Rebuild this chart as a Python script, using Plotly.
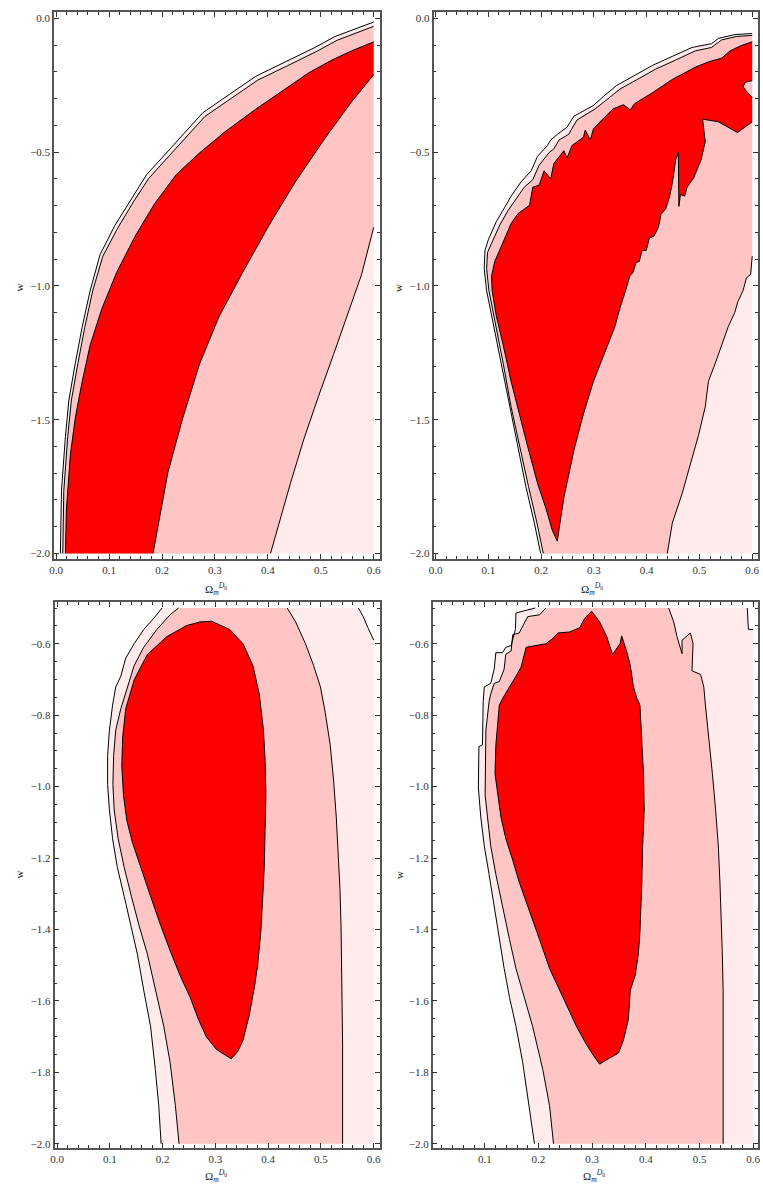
import plotly.graph_objects as go

# ---------------- data (Omega_m^{D0}, w) ----------------
OM_MAX = 0.6
W_MIN = -2.0

# ---- panel 1 (top-left) ----
P1_L3 = [(0.008, -2.0), (0.010, -1.766), (0.0175, -1.5625), (0.024, -1.427), (0.036, -1.291),
         (0.049, -1.155), (0.064, -1.019), (0.083, -0.883), (0.111, -0.774), (0.1425, -0.673),
         (0.171, -0.584), (0.196, -0.530), (0.239, -0.435), (0.277, -0.353), (0.327, -0.285),
         (0.377, -0.217), (0.433, -0.163), (0.489, -0.109), (0.527, -0.068), (0.571, -0.034),
         (0.600, -0.014)]
P1_L2 = [(0.0125, -2.0), (0.0144, -1.766), (0.0219, -1.5625), (0.0288, -1.427), (0.041, -1.291),
         (0.054, -1.155), (0.069, -1.019), (0.088, -0.890), (0.116, -0.785), (0.147, -0.683),
         (0.175, -0.598), (0.200, -0.543), (0.244, -0.448), (0.281, -0.367), (0.331, -0.299),
         (0.381, -0.231), (0.4375, -0.177), (0.494, -0.122), (0.531, -0.082), (0.574, -0.048),
         (0.600, -0.030)]
P1_L1 = [(0.0175, -2.0), (0.0194, -1.834), (0.0269, -1.630), (0.036, -1.495), (0.049, -1.359),
         (0.064, -1.223), (0.086, -1.087), (0.114, -0.951), (0.149, -0.815), (0.186, -0.693),
         (0.227, -0.584), (0.271, -0.503), (0.321, -0.421), (0.377, -0.340), (0.427, -0.272),
         (0.477, -0.204), (0.521, -0.156), (0.558, -0.122), (0.600, -0.088)]
P1_R1 = [(0.183, -2.0), (0.1925, -1.902), (0.211, -1.698), (0.239, -1.495), (0.271, -1.291),
         (0.308, -1.114), (0.352, -0.951), (0.402, -0.774), (0.452, -0.611), (0.508, -0.448),
         (0.558, -0.3125), (0.600, -0.211)]
P1_R2 = [(0.405, -2.0), (0.4206, -1.889), (0.4425, -1.739), (0.4675, -1.576), (0.4956, -1.413),
         (0.524, -1.257), (0.552, -1.101), (0.577, -0.958), (0.600, -0.781)]

# ---- panel 2 (top-right) ----
P2_L3 = [(0.199, -2.0), (0.187, -1.886), (0.171, -1.750), (0.156, -1.601), (0.140, -1.452),
         (0.125, -1.289), (0.109, -1.140), (0.0966, -1.018), (0.092, -0.936), (0.0935, -0.868),
         (0.0997, -0.828), (0.115, -0.760), (0.131, -0.706), (0.143, -0.665), (0.162, -0.611),
         (0.181, -0.570), (0.193, -0.516), (0.212, -0.475), (0.218, -0.455), (0.2305, -0.434),
         (0.249, -0.407), (0.262, -0.366), (0.274, -0.353), (0.299, -0.326), (0.318, -0.292),
         (0.343, -0.251), (0.374, -0.217), (0.411, -0.176), (0.449, -0.142), (0.486, -0.109),
         (0.523, -0.095), (0.536, -0.075), (0.567, -0.061), (0.600, -0.057)]
P2_L2 = [(0.204, -2.0), (0.192, -1.886), (0.176, -1.750), (0.1595, -1.601), (0.143, -1.452),
         (0.128, -1.289), (0.113, -1.140), (0.101, -1.018), (0.0966, -0.936), (0.0984, -0.875),
         (0.106, -0.841), (0.1215, -0.773), (0.137, -0.719), (0.1495, -0.685), (0.168, -0.631),
         (0.184, -0.604), (0.196, -0.5495), (0.215, -0.502), (0.224, -0.488), (0.234, -0.4545),
         (0.252, -0.434), (0.268, -0.380), (0.280, -0.366), (0.302, -0.339), (0.324, -0.305),
         (0.349, -0.265), (0.380, -0.231), (0.417, -0.190), (0.455, -0.156), (0.492, -0.122),
         (0.523, -0.109), (0.542, -0.081), (0.570, -0.068), (0.600, -0.064)]
P2_RED_UPPER = [(0.2305, -1.954), (0.221, -1.913), (0.209, -1.832), (0.193, -1.737), (0.1745, -1.601),
                (0.159, -1.479), (0.143, -1.357), (0.128, -1.221), (0.115, -1.113), (0.107, -1.018),
                (0.106, -0.963), (0.112, -0.909), (0.128, -0.834), (0.143, -0.767), (0.156, -0.730),
                (0.178, -0.699), (0.184, -0.631), (0.196, -0.624), (0.2056, -0.570), (0.218, -0.600),
                (0.224, -0.543), (0.243, -0.495), (0.249, -0.522), (0.2586, -0.475), (0.280, -0.445),
                (0.2835, -0.418), (0.293, -0.4545), (0.299, -0.414), (0.315, -0.380), (0.336, -0.339),
                (0.356, -0.323), (0.369, -0.342), (0.377, -0.319), (0.411, -0.278), (0.449, -0.228),
                (0.492, -0.183), (0.517, -0.163), (0.542, -0.149), (0.558, -0.122), (0.579, -0.102),
                (0.600, -0.088)]
P2_RED_NOTCH = [(0.600, -0.233), (0.587, -0.239), (0.5825, -0.255), (0.591, -0.278), (0.600, -0.296)]
P2_RED_LOWER = [(0.600, -0.387), (0.572, -0.427), (0.536, -0.387), (0.506, -0.377), (0.511, -0.461),
                (0.503, -0.529), (0.489, -0.597), (0.4766, -0.631), (0.472, -0.665), (0.464, -0.658),
                (0.461, -0.703), (0.460, -0.502), (0.455, -0.529), (0.449, -0.611), (0.4436, -0.665),
                (0.436, -0.712), (0.427, -0.733), (0.4224, -0.780), (0.414, -0.814), (0.405, -0.821),
                (0.399, -0.868), (0.391, -0.868), (0.386, -0.909), (0.380, -0.912), (0.374, -0.950),
                (0.368, -0.963), (0.360, -1.018), (0.349, -1.085), (0.3396, -1.153), (0.321, -1.248),
                (0.299, -1.357), (0.280, -1.479), (0.262, -1.615), (0.243, -1.791), (0.2305, -1.954)]
P2_R2 = [(0.439, -2.0), (0.4486, -1.886), (0.467, -1.777), (0.486, -1.642), (0.498, -1.560),
         (0.511, -1.452), (0.517, -1.357), (0.530, -1.289), (0.542, -1.221), (0.5545, -1.153),
         (0.567, -1.099), (0.573, -1.058), (0.5826, -1.018), (0.589, -0.970), (0.597, -0.957),
         (0.600, -0.889)]

# ---- panel 3 (bottom-left) ----
P3_L3 = [(0.199, -0.5), (0.183, -0.529), (0.164, -0.560), (0.146, -0.600), (0.130, -0.640),
         (0.1206, -0.691), (0.111, -0.721), (0.105, -0.772), (0.099, -0.842), (0.0956, -0.913),
         (0.0956, -0.994), (0.099, -1.065), (0.105, -1.146), (0.114, -1.226), (0.127, -1.307),
         (0.139, -1.388), (0.152, -1.469), (0.164, -1.570), (0.177, -1.671), (0.186, -1.792),
         (0.1925, -1.893), (0.197, -2.0)]
P3_L2 = [(0.230, -0.5), (0.214, -0.519), (0.189, -0.560), (0.164, -0.610), (0.146, -0.661),
         (0.133, -0.721), (0.1206, -0.782), (0.111, -0.842), (0.107, -0.913), (0.1056, -0.994),
         (0.108, -1.065), (0.1156, -1.146), (0.127, -1.226), (0.1406, -1.307), (0.155, -1.388),
         (0.171, -1.469), (0.186, -1.570), (0.202, -1.671), (0.214, -1.772), (0.224, -1.893),
         (0.231, -2.0)]
P3_RED = [(0.2925, -0.537), (0.327, -0.560), (0.352, -0.600), (0.371, -0.661), (0.383, -0.741),
          (0.391, -0.842), (0.394, -0.923), (0.3956, -1.024), (0.394, -1.125), (0.3925, -1.226),
          (0.389, -1.327), (0.386, -1.408), (0.380, -1.499), (0.374, -1.560), (0.364, -1.640),
          (0.352, -1.711), (0.3425, -1.741), (0.330, -1.762), (0.319, -1.752), (0.302, -1.736),
          (0.283, -1.701), (0.2675, -1.651), (0.252, -1.590), (0.233, -1.529), (0.214, -1.459),
          (0.196, -1.388), (0.177, -1.307), (0.158, -1.226), (0.1425, -1.156), (0.132, -1.095),
          (0.1256, -1.024), (0.1225, -0.943), (0.124, -0.863), (0.130, -0.782), (0.146, -0.701),
          (0.171, -0.630), (0.208, -0.580), (0.2456, -0.549), (0.2706, -0.539)]
P3_R2 = [(0.436, -0.5), (0.452, -0.539), (0.4706, -0.600), (0.486, -0.661), (0.499, -0.721),
         (0.508, -0.792), (0.5175, -0.883), (0.524, -0.984), (0.529, -1.085), (0.533, -1.186),
         (0.536, -1.287), (0.538, -1.388), (0.539, -1.489), (0.5406, -1.590), (0.541, -1.721),
         (0.541, -2.0)]
P3_CORNER = [(0.571, -0.5), (0.580, -0.524), (0.589, -0.555), (0.600, -0.590)]

# ---- panel 4 (bottom-right) ----
P4_L3 = [(0.194, -0.5), (0.1706, -0.509), (0.158, -0.514), (0.157, -0.560), (0.152, -0.590),
         (0.149, -0.605), (0.139, -0.610), (0.133, -0.625), (0.1206, -0.625), (0.1175, -0.671),
         (0.111, -0.711), (0.099, -0.721), (0.097, -0.762), (0.0956, -0.883), (0.089, -0.888),
         (0.088, -1.004), (0.0925, -1.085), (0.099, -1.166), (0.108, -1.246), (0.1175, -1.337),
         (0.127, -1.428), (0.136, -1.509), (0.146, -1.590), (0.158, -1.671), (0.1706, -1.772),
         (0.180, -1.873), (0.1925, -2.0)]
P4_L2 = [(0.214, -0.5), (0.202, -0.519), (0.180, -0.524), (0.164, -0.570), (0.152, -0.575),
         (0.149, -0.620), (0.139, -0.630), (0.136, -0.671), (0.127, -0.706), (0.1175, -0.711),
         (0.111, -0.741), (0.108, -0.762), (0.102, -0.842), (0.1006, -0.964), (0.1006, -1.024),
         (0.105, -1.085), (0.111, -1.166), (0.1206, -1.246), (0.133, -1.337), (0.146, -1.428),
         (0.158, -1.509), (0.174, -1.590), (0.189, -1.671), (0.208, -1.792), (0.2206, -1.893),
         (0.228, -2.0)]
P4_RED = [(0.299, -0.509), (0.314, -0.539), (0.327, -0.580), (0.338, -0.630), (0.352, -0.600),
          (0.355, -0.578), (0.364, -0.620), (0.371, -0.661), (0.377, -0.721), (0.383, -0.752),
          (0.389, -0.772), (0.3925, -0.863), (0.3956, -0.964), (0.397, -1.065), (0.394, -1.166),
          (0.3925, -1.267), (0.389, -1.408), (0.386, -1.469), (0.380, -1.529), (0.371, -1.570),
          (0.3675, -1.651), (0.358, -1.711), (0.349, -1.746), (0.330, -1.762), (0.314, -1.777),
          (0.302, -1.752), (0.289, -1.721), (0.2706, -1.671), (0.252, -1.610), (0.239, -1.570),
          (0.2206, -1.509), (0.202, -1.428), (0.183, -1.347), (0.164, -1.267), (0.152, -1.206),
          (0.139, -1.145), (0.130, -1.085), (0.124, -1.024), (0.119, -0.964), (0.1206, -0.883),
          (0.127, -0.772), (0.136, -0.746), (0.149, -0.711), (0.158, -0.691), (0.1675, -0.666),
          (0.177, -0.610), (0.214, -0.600), (0.227, -0.585), (0.236, -0.570), (0.258, -0.567),
          (0.277, -0.555), (0.286, -0.529)]
P4_R2 = [(0.4425, -0.5), (0.452, -0.539), (0.458, -0.580), (0.463, -0.605), (0.4675, -0.628),
         (0.4675, -0.590), (0.483, -0.570), (0.488, -0.600), (0.486, -0.676), (0.502, -0.686),
         (0.508, -0.721), (0.511, -0.772), (0.5175, -0.863), (0.524, -0.964), (0.530, -1.065),
         (0.535, -1.166), (0.538, -1.267), (0.5406, -1.368), (0.5425, -1.469), (0.544, -1.570),
         (0.544, -1.721), (0.544, -2.0)]
P4_CORNER = [(0.589, -0.5), (0.591, -0.560), (0.600, -0.560)]

# tick labels
X_TICKS_A = [0.0, 0.1, 0.2, 0.3, 0.4, 0.5, 0.6]
X_TICKS_B = [0.1, 0.2, 0.3, 0.4, 0.5, 0.6]
Y_TICKS_TOP = [0.0, -0.5, -1.0, -1.5, -2.0]
Y_TICKS_BOT = [-0.6, -0.8, -1.0, -1.2, -1.4, -1.6, -1.8, -2.0]

# ---------------- styling ----------------
C_LIGHT = "#FFEBEB"
C_PINK = "#FFC4C4"
C_RED = "#FF0000"
W_PX, H_PX = 763, 1193
SERIF = "Liberation Serif"

fig = go.Figure()


def xs(pts):
    return [p[0] for p in pts]


def ys(pts):
    return [p[1] for p in pts]


def add_fill(pts, color, ax):
    fig.add_trace(go.Scatter(x=xs(pts), y=ys(pts), mode="lines", fill="toself",
                             fillcolor=color, line=dict(width=0, color=color),
                             hoverinfo="skip", showlegend=False,
                             xaxis="x" + ax, yaxis="y" + ax))


def add_line(pts, ax):
    fig.add_trace(go.Scatter(x=xs(pts), y=ys(pts), mode="lines",
                             line=dict(width=1, color="black"),
                             hoverinfo="skip", showlegend=False,
                             xaxis="x" + ax, yaxis="y" + ax))


def rev(p):
    return list(reversed(p))


# panel 1
add_fill(P1_L3 + [(OM_MAX, W_MIN)], C_LIGHT, "")
add_fill(P1_L2 + rev(P1_R2), C_PINK, "")
add_fill(P1_L1 + rev(P1_R1), C_RED, "")
for c in (P1_L3, P1_L2, P1_L1, P1_R1, P1_R2):
    add_line(c, "")

# panel 2
add_fill(P2_L3 + [(OM_MAX, W_MIN)], C_LIGHT, "2")
add_fill(P2_L2 + rev(P2_R2), C_PINK, "2")
add_fill(P2_RED_UPPER + P2_RED_NOTCH + P2_RED_LOWER, C_RED, "2")
for c in (P2_L3, P2_L2, P2_RED_UPPER, P2_RED_NOTCH, P2_RED_LOWER, P2_R2):
    add_line(c, "2")

# panel 3
add_fill(P3_L3 + [(OM_MAX, W_MIN)] + rev(P3_CORNER), C_LIGHT, "3")
add_fill(P3_L2 + rev(P3_R2), C_PINK, "3")
add_fill(P3_RED, C_RED, "3")
for c in (P3_L3, P3_L2, P3_RED + P3_RED[:1], P3_R2, P3_CORNER):
    add_line(c, "3")

# panel 4
add_fill(P4_L3 + [(OM_MAX, W_MIN)] + rev(P4_CORNER), C_LIGHT, "4")
add_fill(P4_L2 + rev(P4_R2), C_PINK, "4")
add_fill(P4_RED, C_RED, "4")
for c in (P4_L3, P4_L2, P4_RED + P4_RED[:1], P4_R2, P4_CORNER):
    add_line(c, "4")


def dom_x(a, b):
    return [a / W_PX, b / W_PX]


def dom_y(top, bottom):
    return [1 - bottom / H_PX, 1 - top / H_PX]


def axis(domain, rng, tickvals, minor_dtick, anchor):
    return dict(domain=domain, range=rng, anchor=anchor,
                tickmode="array", tickvals=tickvals, tickformat=".1f",
                showline=True, linecolor="#555", linewidth=1.5, mirror="allticks",
                ticks="inside", ticklen=5, tickwidth=1, tickcolor="#333",
                showgrid=False, zeroline=False,
                tickfont=dict(family=SERIF, size=11, color="#333"),
                minor=dict(ticks="inside", ticklen=3, tickwidth=1, tickcolor="#333",
                           dtick=minor_dtick, tick0=0, showgrid=False))


TOP = (12.3, 560)
BOT = (603.3, 1150)
fig.update_layout(
    width=W_PX, height=H_PX, margin=dict(l=0, r=0, t=0, b=0),
    paper_bgcolor="white", plot_bgcolor="white", showlegend=False,
    xaxis=axis(dom_x(49.5, 378), [-0.004, 0.611], X_TICKS_A, 0.02, "y"),
    yaxis=axis(dom_y(*TOP), [-2.021, 0.0224], Y_TICKS_TOP, 0.1, "x"),
    xaxis2=axis(dom_x(432.5, 760), [-0.004, 0.611], X_TICKS_A, 0.02, "y2"),
    yaxis2=axis(dom_y(*TOP), [-2.021, 0.0224], Y_TICKS_TOP, 0.1, "x2"),
    xaxis3=axis(dom_x(50, 378), [-0.005, 0.611], X_TICKS_A, 0.02, "y3"),
    yaxis3=axis(dom_y(*BOT), [-2.012, -0.484], Y_TICKS_BOT, 0.05, "x3"),
    xaxis4=axis(dom_x(431.7, 760), [0.003, 0.609], X_TICKS_B, 0.02, "y4"),
    yaxis4=axis(dom_y(*BOT), [-2.012, -0.484], Y_TICKS_BOT, 0.05, "x4"),
)

OM_LABEL = "Ω<sub><i>m</i></sub><sup><i>D</i><sub>0</sub></sup>"
W_LABEL = "w"
labels = [
    (OM_LABEL, 213, 590, 0), (OM_LABEL, 592, 590, 0),
    (OM_LABEL, 213, 1178, 0), (OM_LABEL, 594, 1178, 0),
    (W_LABEL, 14, 288, -90), (W_LABEL, 396, 288, -90),
    (W_LABEL, 14, 876, -90), (W_LABEL, 397, 876, -90),
]
for txt, px, py, ang in labels:
    fig.add_annotation(text=txt, x=px / W_PX, y=1 - py / H_PX, xref="paper", yref="paper",
                       showarrow=False, textangle=ang, xanchor="center", yanchor="middle",
                       font=dict(family=SERIF, size=11, color="#222"))

fig.write_html("out.html")
